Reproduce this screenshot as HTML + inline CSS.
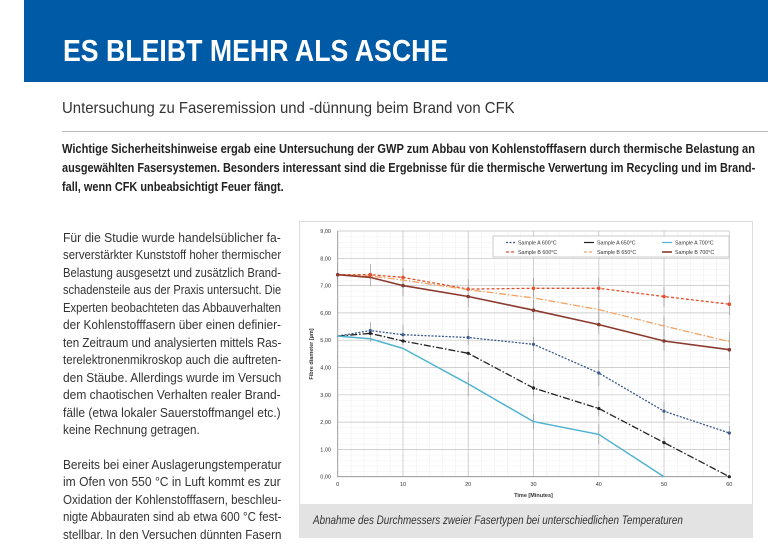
<!DOCTYPE html>
<html><head><meta charset="utf-8"><style>
body{margin:0;width:768px;height:546px;overflow:hidden;background:#fff;position:relative;font-family:"Liberation Sans",sans-serif;}
.band{position:absolute;left:24px;top:0;width:744px;height:82px;background:#005aa6;}
.fit{position:absolute;white-space:nowrap;transform-origin:0 0;display:inline-block;}
.title{left:63px;top:33px;color:#fff;font-weight:bold;font-size:31px;transform:scaleX(0.85);}
.sub{left:62px;top:100px;font-size:16px;color:#333;transform:scaleX(0.93);}
.rule{position:absolute;left:62px;top:131px;width:706px;height:1px;background:#bbb;}
.lead{left:62px;font-size:13px;font-weight:bold;color:#222;transform:scaleX(0.87);}
.b{left:63px;font-size:12.8px;color:#333;transform:scaleX(0.8);}
.cap{position:absolute;left:299px;top:504px;width:454px;height:34px;background:#e3e3e3;}
.capt{left:313px;top:513px;font-style:italic;font-size:12px;color:#333;transform:scaleX(0.9);}
</style></head><body>
<div class="band"></div>
<div class="fit title" data-w="385">ES BLEIBT MEHR ALS ASCHE</div>
<div class="fit sub" data-w="453">Untersuchung zu Faseremission und -dünnung beim Brand von CFK</div>
<div class="rule"></div>
<div class="fit lead" style="top:141px" data-w="693">Wichtige Sicherheitshinweise ergab eine Untersuchung der GWP zum Abbau von Kohlenstofffasern durch thermische Belastung an</div>
<div class="fit lead" style="top:160px" data-w="693">ausgewählten Fasersystemen. Besonders interessant sind die Ergebnisse für die thermische Verwertung im Recycling und im Brand-</div>
<div class="fit lead" style="top:179px" data-s="1">fall, wenn CFK unbeabsichtigt Feuer fängt.</div>

<div class="fit b" style="top:230px" data-w="218">Für die Studie wurde handelsüblicher fa-</div>
<div class="fit b" style="top:247.45px" data-w="218">serverstärkter Kunststoff hoher thermischer</div>
<div class="fit b" style="top:264.9px" data-w="218">Belastung ausgesetzt und zusätzlich Brand-</div>
<div class="fit b" style="top:282.35px" data-w="218">schadensteile aus der Praxis untersucht. Die</div>
<div class="fit b" style="top:299.8px" data-w="218">Experten beobachteten das Abbauverhalten</div>
<div class="fit b" style="top:317.25px" data-w="218">der Kohlenstofffasern über einen definier-</div>
<div class="fit b" style="top:334.7px" data-w="218">ten Zeitraum und analysierten mittels Ras-</div>
<div class="fit b" style="top:352.15px" data-w="218">terelektronenmikroskop auch die auftreten-</div>
<div class="fit b" style="top:369.6px" data-w="218">den Stäube. Allerdings wurde im Versuch</div>
<div class="fit b" style="top:387.05px" data-w="218">dem chaotischen Verhalten realer Brand-</div>
<div class="fit b" style="top:404.5px" data-w="218">fälle (etwa lokaler Sauerstoffmangel etc.)</div>
<div class="fit b" style="top:421.95px" data-s="1">keine Rechnung getragen.</div>
<div class="fit b" style="top:457px" data-w="218">Bereits bei einer Auslagerungstemperatur</div>
<div class="fit b" style="top:474.45px" data-w="218">im Ofen von 550 °C in Luft kommt es zur</div>
<div class="fit b" style="top:491.9px" data-w="218">Oxidation der Kohlenstofffasern, beschleu-</div>
<div class="fit b" style="top:509.35px" data-w="218">nigte Abbauraten sind ab etwa 600 °C fest-</div>
<div class="fit b" style="top:526.8px" data-w="218">stellbar. In den Versuchen dünnten Fasern</div>

<svg style="position:absolute;left:0;top:0" width="768" height="546" font-family="Liberation Sans, sans-serif">
<defs>
<pattern id="g" x="337.7" y="231" width="13.054" height="5.46" patternUnits="userSpaceOnUse">
<path d="M0 0H13.054M0 0V5.46" stroke="#e2e2e2" stroke-width="0.6" fill="none"/>
</pattern>
</defs>
<rect x="299.5" y="221.5" width="453" height="283" fill="#fff" stroke="#ddd"/>
<rect x="337.7" y="231" width="391.6" height="245.7" fill="url(#g)"/>
<g stroke="#c4c4c4" stroke-width="0.7">
<path d="M337.7 231H729.3M337.7 258.3H729.3M337.7 285.6H729.3M337.7 312.9H729.3M337.7 340.2H729.3M337.7 367.5H729.3M337.7 394.8H729.3M337.7 422.1H729.3M337.7 449.4H729.3"/>
<path d="M403 231V476.7M468.2 231V476.7M533.5 231V476.7M598.8 231V476.7M664 231V476.7M729.3 231V476.7"/>
</g>
<path d="M337.7 231V476.7H729.3" stroke="#888" fill="none" stroke-width="0.8"/>
<g font-size="5.5" fill="#333" text-anchor="end">
<text x="331" y="233">9,00</text><text x="331" y="260.3">8,00</text><text x="331" y="287.6">7,00</text><text x="331" y="314.9">6,00</text><text x="331" y="342.2">5,00</text><text x="331" y="369.5">4,00</text><text x="331" y="396.8">3,00</text><text x="331" y="424.1">2,00</text><text x="331" y="451.4">1,00</text><text x="331" y="478.7">0,00</text>
</g>
<g font-size="5.5" fill="#333" text-anchor="middle">
<text x="337.7" y="486">0</text><text x="403" y="486">10</text><text x="468.2" y="486">20</text><text x="533.5" y="486">30</text><text x="598.8" y="486">40</text><text x="664" y="486">50</text><text x="729.3" y="486">60</text>
<text x="533.5" y="497" font-weight="bold">Time [Minutes]</text>
<text transform="translate(313 354) rotate(-90)" font-weight="bold">Fibre diameter [µm]</text>
</g>
<g stroke="#888" stroke-width="0.6">
<path d="M337.7 264.7v20M370.3 264v22M403 268v20M468.2 279v20M533.5 278v20M598.8 278v20M664 287v20M729.3 295v20"/>
<path d="M403 276v20M468.2 287v20M533.5 300v20M598.8 314v20M664 331v20M729.3 340v20"/>
<path d="M598.8 300v20M664 316v20M729.3 332v20"/>
<path d="M370.3 322v20M403 325v20M468.2 329v16M533.5 337v14M598.8 360v26M664 402v18M729.3 426v14"/>
<path d="M468.2 372v24M533.5 414v15M598.8 424v20M533.5 380v16M598.8 401v15M664 437v11"/>
</g>
<g fill="none" stroke-width="1.3">
<polyline points="337.7,336.1 370.3,330.6 403,334.7 468.2,337.5 533.5,344.3 598.8,373 664,411.2 729.3,433" stroke="#3a5a8c" stroke-dasharray="2,1.5"/>
<polyline points="337.7,336.1 370.3,333.4 403,341 468.2,353.3 533.5,388 598.8,408.5 664,442.6 729.3,476.7" stroke="#222" stroke-dasharray="7,2,1.5,2"/>
<polyline points="337.7,336.1 370.3,338.8 403,348.4 468.2,383.9 533.5,421.6 598.8,434.4 664,476.7" stroke="#4fb3d0" stroke-width="1.5"/>
<polyline points="337.7,274.7 370.3,274.7 403,277.4 468.2,289.1 533.5,288.3 598.8,288.3 664,296.5 729.3,304.2" stroke="#e0502e" stroke-dasharray="3,2"/>
<polyline points="337.7,274.7 370.3,276 403,280.1 468.2,289.7 533.5,297.9 598.8,309.6 664,326 729.3,341.6" stroke="#f2a263" stroke-dasharray="7,2,1.5,2"/>
<polyline points="337.7,274.7 370.3,277.4 403,285.6 468.2,296.5 533.5,310.2 598.8,324.6 664,341 729.3,349.7" stroke="#8b3a2e" stroke-width="1.6"/>
</g>
<g>
<g fill="#3a5a8c"><circle cx="370.3" cy="330.6" r="1.6"/><circle cx="403" cy="334.7" r="1.6"/><circle cx="468.2" cy="337.5" r="1.6"/><circle cx="533.5" cy="344.3" r="1.6"/><circle cx="598.8" cy="373" r="1.6"/><circle cx="664" cy="411.2" r="1.6"/><circle cx="729.3" cy="433" r="1.6"/></g>
<g fill="#222"><circle cx="370.3" cy="333.4" r="1.6"/><circle cx="403" cy="341" r="1.6"/><circle cx="468.2" cy="353.3" r="1.6"/><circle cx="533.5" cy="388" r="1.6"/><circle cx="598.8" cy="408.5" r="1.6"/><circle cx="664" cy="442.6" r="1.6"/><circle cx="729.3" cy="476.7" r="1.6"/></g>
<g fill="#e0502e"><circle cx="370.3" cy="274.7" r="1.8"/><circle cx="403" cy="277.4" r="1.8"/><circle cx="468.2" cy="289.1" r="1.8"/><circle cx="533.5" cy="288.3" r="1.8"/><circle cx="598.8" cy="288.3" r="1.8"/><circle cx="664" cy="296.5" r="1.8"/><circle cx="729.3" cy="304.2" r="1.8"/></g>
<g fill="#8b3a2e"><circle cx="337.7" cy="274.7" r="1.8"/><circle cx="403" cy="285.6" r="1.8"/><circle cx="468.2" cy="296.5" r="1.8"/><circle cx="533.5" cy="310.2" r="1.8"/><circle cx="598.8" cy="324.6" r="1.8"/><circle cx="664" cy="341" r="1.8"/><circle cx="729.3" cy="349.7" r="1.8"/></g>
</g>
<rect x="493" y="236" width="236" height="21" fill="#fff" stroke="#aaa" stroke-width="0.6"/>
<g stroke-width="1.2" fill="none">
<path d="M506 242.5h10" stroke="#3a5a8c" stroke-dasharray="2,1.5"/>
<path d="M584 242.5h10" stroke="#222"/>
<path d="M662 242.5h10" stroke="#4fb3d0"/>
<path d="M506 252h10" stroke="#e0502e" stroke-dasharray="3,2"/>
<path d="M584 252h10" stroke="#f2a263" stroke-dasharray="3,2"/>
<path d="M662 252h10" stroke="#8b3a2e" stroke-width="1.6"/>
</g>
<g font-size="5.3" fill="#333">
<text x="518" y="244.5">Sample A 600°C</text><text x="597" y="244.5">Sample A 650°C</text><text x="675" y="244.5">Sample A 700°C</text>
<text x="518" y="254">Sample B 600°C</text><text x="597" y="254">Sample B 650°C</text><text x="675" y="254">Sample B 700°C</text>
</g>
</svg>
<div class="cap"></div>
<div class="fit capt" data-w="370">Abnahme des Durchmessers zweier Fasertypen bei unterschiedlichen Temperaturen</div>
<script>
(function(){
  var els=document.querySelectorAll('.fit');
  var leadScale=null, bScale=[];
  for(var i=0;i<els.length;i++){
    var e=els[i], w=e.getAttribute('data-w');
    if(w){
      var nw=e.scrollWidth||e.offsetWidth;
      if(nw>0){var s=parseFloat(w)/nw;e.style.transform='scaleX('+s+')';
        if(e.classList.contains('lead'))leadScale=s;
        if(e.classList.contains('b'))bScale.push(s);}
    }
  }
  var avg=0;for(var j=0;j<bScale.length;j++)avg+=bScale[j];avg=bScale.length?avg/bScale.length:0.8;
  for(var i=0;i<els.length;i++){
    var e=els[i];
    if(e.getAttribute('data-s')){
      if(e.classList.contains('lead')&&leadScale)e.style.transform='scaleX('+leadScale+')';
      if(e.classList.contains('b'))e.style.transform='scaleX('+avg+')';
    }
  }
})();
</script>
</body></html>
